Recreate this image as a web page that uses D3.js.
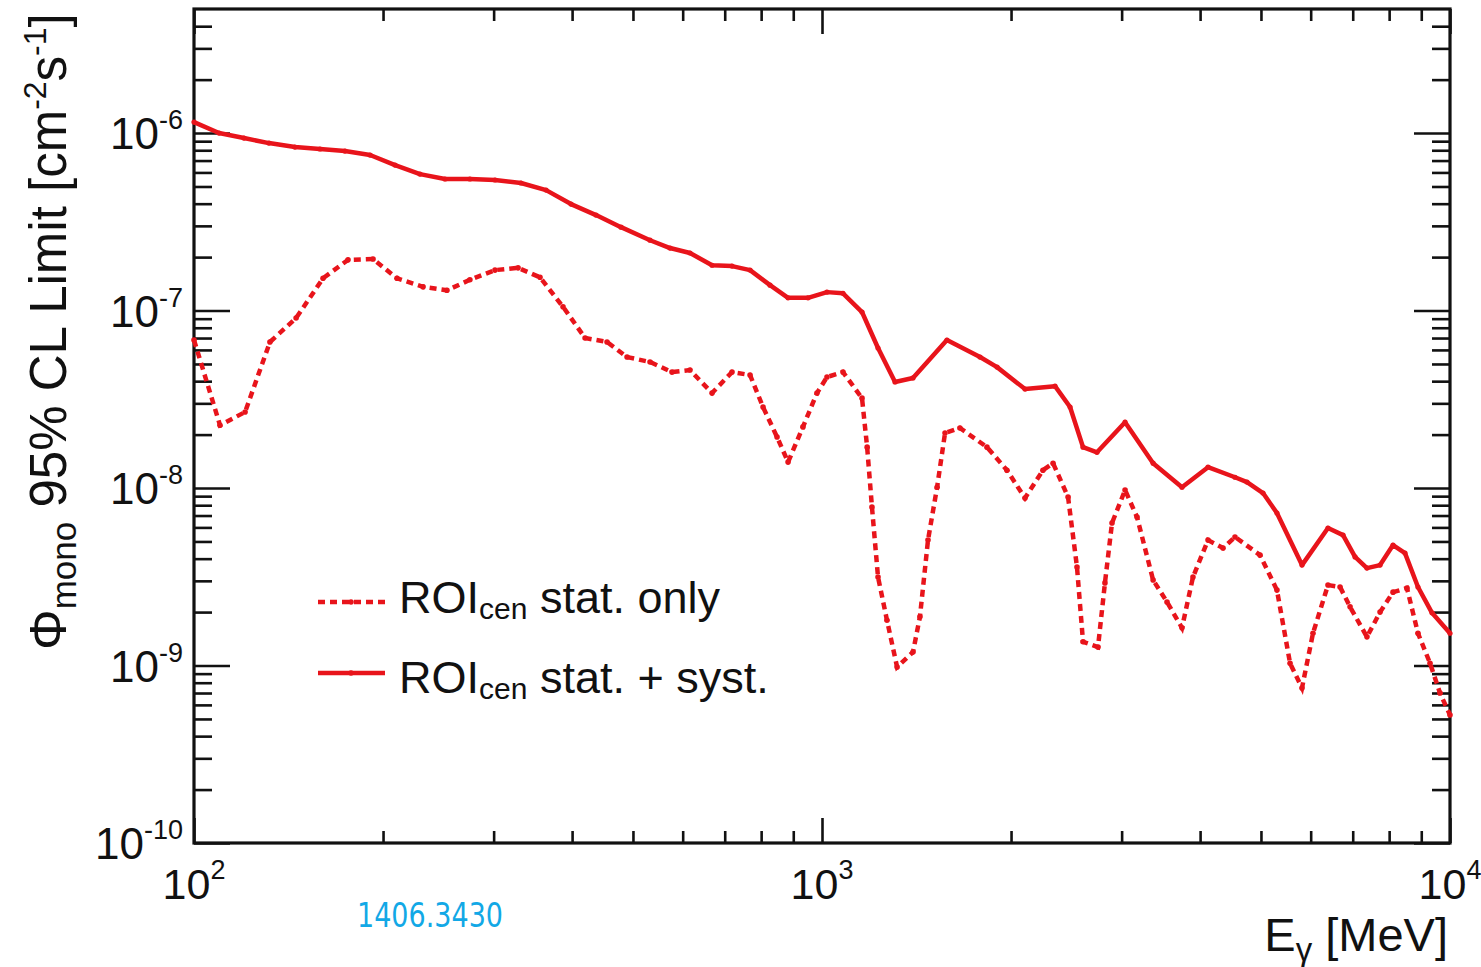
<!DOCTYPE html>
<html>
<head>
<meta charset="utf-8">
<script src="https://cdn.jsdelivr.net/npm/d3@7/dist/d3.min.js"></script>
<style>
  html, body { margin: 0; padding: 0; background: #fff; }
  svg { display: block; }
  text { font-family: "Liberation Sans", Arial, Helvetica, sans-serif; fill: #111; white-space: pre; }
</style>
</head>
<body>
<svg id="chart" width="1481" height="967"></svg>
<script>
// ---------------- DATA ----------------
// Energies in MeV, limits in cm^-2 s^-1
const statEnergy = [100, 110.0, 120.6, 132.1, 145.4, 160.5, 175.9, 192.8, 210.5, 231.6, 252.8, 275.0, 301.5, 328.1, 355.6, 386.9, 419.5, 454.7, 489.3, 532.3, 576.9, 616.3, 668.2, 719.0, 768.1, 805.6, 848.0, 883.0, 932.6, 981.8, 1018.5, 1080, 1158, 1180, 1201, 1228, 1269, 1317, 1396, 1432, 1475, 1525, 1570, 1658, 1831, 1970, 2105, 2248, 2333, 2465, 2547, 2604, 2751, 2822, 2896, 3038, 3174, 3367, 3543, 3743, 3897, 4118, 4351, 4546, 4983, 5302, 5563, 5812, 6051, 6393, 6682, 6932, 7375, 7738, 8115, 8541, 8892, 9294, 9640, 10000];
const statOnly = [6.82e-8, 2.26e-8, 2.68e-8, 6.65e-8, 9.07e-8, 1.52e-7, 1.93e-7, 1.95e-7, 1.52e-7, 1.36e-7, 1.30e-7, 1.49e-7, 1.69e-7, 1.74e-7, 1.54e-7, 1.05e-7, 7.00e-8, 6.65e-8, 5.47e-8, 5.13e-8, 4.50e-8, 4.62e-8, 3.43e-8, 4.50e-8, 4.33e-8, 2.86e-8, 1.94e-8, 1.40e-8, 2.21e-8, 3.43e-8, 4.22e-8, 4.50e-8, 3.21e-8, 1.70e-8, 7.82e-9, 3.15e-9, 1.80e-9, 9.80e-10, 1.19e-9, 1.88e-9, 5.09e-9, 1.01e-8, 2.04e-8, 2.18e-8, 1.70e-8, 1.26e-8, 8.78e-9, 1.26e-8, 1.38e-8, 8.90e-9, 3.59e-9, 1.36e-9, 1.27e-9, 2.92e-9, 6.35e-9, 9.74e-9, 6.86e-9, 3.03e-9, 2.28e-9, 1.63e-9, 3.15e-9, 5.09e-9, 4.59e-9, 5.30e-9, 4.19e-9, 2.66e-9, 1.03e-9, 7.47e-10, 1.52e-9, 2.84e-9, 2.77e-9, 2.14e-9, 1.45e-9, 2.00e-9, 2.59e-9, 2.73e-9, 1.52e-9, 1.03e-9, 7.00e-10, 5.26e-10];

const systEnergy = [100, 109.6, 120.1, 131.6, 144.8, 158.7, 173.9, 190.7, 209.0, 229.0, 251.0, 275.0, 301.5, 331.6, 363.6, 398.4, 436.7, 478.6, 532.3, 572.8, 616.3, 668.2, 719.0, 768.1, 826.5, 883.0, 950.0, 1018.5, 1080, 1158, 1228, 1307, 1396, 1581, 1785, 1900, 2105, 2350, 2483, 2604, 2741, 3038, 3367, 3743, 4118, 4546, 4751, 5038, 5302, 5812, 6393, 6756, 7060, 7375, 7738, 8115, 8479, 8892, 9361, 10000];
const statSyst = [1.153e-6, 1.0e-6, 9.37e-7, 8.78e-7, 8.34e-7, 8.13e-7, 7.92e-7, 7.52e-7, 6.60e-7, 5.87e-7, 5.51e-7, 5.51e-7, 5.44e-7, 5.23e-7, 4.77e-7, 3.98e-7, 3.45e-7, 2.95e-7, 2.49e-7, 2.25e-7, 2.11e-7, 1.80e-7, 1.78e-7, 1.69e-7, 1.39e-7, 1.18e-7, 1.18e-7, 1.27e-7, 1.25e-7, 9.81e-8, 6.15e-8, 3.96e-8, 4.17e-8, 6.82e-8, 5.47e-8, 4.80e-8, 3.61e-8, 3.75e-8, 2.86e-8, 1.70e-8, 1.59e-8, 2.35e-8, 1.38e-8, 1.01e-8, 1.31e-8, 1.15e-8, 1.08e-8, 9.37e-9, 7.23e-9, 3.68e-9, 5.95e-9, 5.43e-9, 4.09e-9, 3.54e-9, 3.68e-9, 4.77e-9, 4.30e-9, 2.77e-9, 1.98e-9, 1.52e-9];

const xMajorTicks = [100, 1000, 10000];
const xTickExponents = ["2", "3", "4"];
const yMajorTicks = [1e-10, 1e-9, 1e-8, 1e-7, 1e-6];
const yTickExponents = ["-10", "-9", "-8", "-7", "-6"];
const legendLabels = ["stat. only", "stat. + syst."];

// ---------------- CHART ----------------
const red = "#e8141b";
const svg = d3.select("#chart");
const L = 194, R = 1450, T = 9, B = 843;

const x = d3.scaleLog().domain([100, 10000]).range([L, R]);
const y = d3.scaleLog().domain([1e-10, 5e-6]).range([B, T]);

// minor ticks
const xMinor = [];
[100, 1000].forEach(d => { for (let m = 2; m <= 9; m++) xMinor.push(d * m); });
const yMinor = [];
[1e-10, 1e-9, 1e-8, 1e-7, 1e-6].forEach(d => {
  for (let m = 2; m <= 9; m++) { const v = d * m; if (v < 4.95e-6) yMinor.push(v); }
});

function styleAxis(g) {
  g.select(".domain").remove();
  g.selectAll(".tick line").attr("stroke", "#111").attr("stroke-width", 2.6);
  g.selectAll(".tick text").remove();
}

// bottom
svg.append("g").attr("transform", `translate(0,${B})`)
  .call(d3.axisBottom(x).tickValues(xMajorTicks).tickSize(-25).tickFormat("")).call(styleAxis);
svg.append("g").attr("transform", `translate(0,${B})`)
  .call(d3.axisBottom(x).tickValues(xMinor).tickSize(-12).tickFormat("")).call(styleAxis);
// top
svg.append("g").attr("transform", `translate(0,${T})`)
  .call(d3.axisTop(x).tickValues(xMajorTicks).tickSize(-25).tickFormat("")).call(styleAxis);
svg.append("g").attr("transform", `translate(0,${T})`)
  .call(d3.axisTop(x).tickValues(xMinor).tickSize(-12).tickFormat("")).call(styleAxis);
// left
svg.append("g").attr("transform", `translate(${L},0)`)
  .call(d3.axisLeft(y).tickValues(yMajorTicks).tickSize(-36).tickFormat("")).call(styleAxis);
svg.append("g").attr("transform", `translate(${L},0)`)
  .call(d3.axisLeft(y).tickValues(yMinor).tickSize(-18).tickFormat("")).call(styleAxis);
// right
svg.append("g").attr("transform", `translate(${R},0)`)
  .call(d3.axisRight(y).tickValues(yMajorTicks).tickSize(-36).tickFormat("")).call(styleAxis);
svg.append("g").attr("transform", `translate(${R},0)`)
  .call(d3.axisRight(y).tickValues(yMinor).tickSize(-18).tickFormat("")).call(styleAxis);

// frame
svg.append("rect").attr("x", L).attr("y", T).attr("width", R - L).attr("height", B - T)
  .attr("fill", "none").attr("stroke", "#111").attr("stroke-width", 3.2);

// tick labels
xMajorTicks.forEach((v, i) => {
  const t = svg.append("text").attr("x", x(v)).attr("y", 899)
    .attr("text-anchor", "middle").attr("font-size", 43);
  t.append("tspan").text("10");
  t.append("tspan").attr("font-size", 27).attr("dy", -20).text(xTickExponents[i]);
});
yMajorTicks.forEach((v, i) => {
  const t = svg.append("text").attr("x", 183).attr("y", y(v) + 16)
    .attr("text-anchor", "end").attr("font-size", 44);
  t.append("tspan").text("10");
  t.append("tspan").attr("font-size", 27).attr("dy", -20).text(yTickExponents[i]);
});

// axis titles
const xt = svg.append("text").attr("x", R - 2).attr("y", 951).attr("text-anchor", "end").attr("font-size", 47);
xt.append("tspan").text("E");
xt.append("tspan").attr("font-size", 33).attr("dy", 10).text("γ");
xt.append("tspan").attr("dy", -10).text(" [MeV]");

const yt = svg.append("text").attr("transform", "translate(66,650) rotate(-90)")
  .attr("text-anchor", "start").attr("font-size", 51);
yt.append("tspan").text("Φ");
yt.append("tspan").attr("font-size", 35).attr("dy", 10).text("mono");
yt.append("tspan").attr("dy", -10).text(" 95% CL Limit [cm");
yt.append("tspan").attr("font-size", 32).attr("dy", -20).text("-2");
yt.append("tspan").attr("dy", 20).text("s");
yt.append("tspan").attr("font-size", 32).attr("dy", -20).text("-1");
yt.append("tspan").attr("dy", 20).text("]");

// data lines
const statData = statEnergy.map((e, i) => ({ e, v: statOnly[i] }));
const systData = systEnergy.map((e, i) => ({ e, v: statSyst[i] }));
const line = d3.line().x(d => x(d.e)).y(d => y(d.v));

const plot = svg.append("g");
plot.append("path").datum(systData).attr("d", line)
  .attr("fill", "none").attr("stroke", red).attr("stroke-width", 4.5).attr("stroke-linejoin", "round");
plot.selectAll(".ms").data(systData).enter().append("circle")
  .attr("cx", d => x(d.e)).attr("cy", d => y(d.v)).attr("r", 2.6).attr("fill", red);

plot.append("path").datum(statData).attr("d", line)
  .attr("fill", "none").attr("stroke", red).attr("stroke-width", 4.5)
  .attr("stroke-dasharray", "7,5");
plot.selectAll(".md").data(statData).enter().append("circle")
  .attr("cx", d => x(d.e)).attr("cy", d => y(d.v)).attr("r", 2.8).attr("fill", red);

// legend
const legY = [602, 673];
const legBase = [613, 693];
legendLabels.forEach((lab, i) => {
  svg.append("line").attr("x1", 318).attr("x2", 385).attr("y1", legY[i]).attr("y2", legY[i])
    .attr("stroke", red).attr("stroke-width", 4.5)
    .attr("stroke-dasharray", i === 0 ? "7,5" : null);
  svg.append("circle").attr("cx", 351).attr("cy", legY[i]).attr("r", 2.8).attr("fill", red);
  const t = svg.append("text").attr("x", 399).attr("y", legBase[i]).attr("font-size", 45);
  t.append("tspan").text("ROI");
  t.append("tspan").attr("font-size", 30).attr("dy", 6).text("cen");
  t.append("tspan").attr("dy", -6).text(" " + lab);
});

// watermark
svg.append("text").attr("transform", "translate(357,927) scale(1,1.27)")
  .style("font-family", "'DejaVu Sans', sans-serif")
  .attr("font-size", 27).style("fill", "#12a8e6").text("1406.3430");
</script>
</body>
</html>
